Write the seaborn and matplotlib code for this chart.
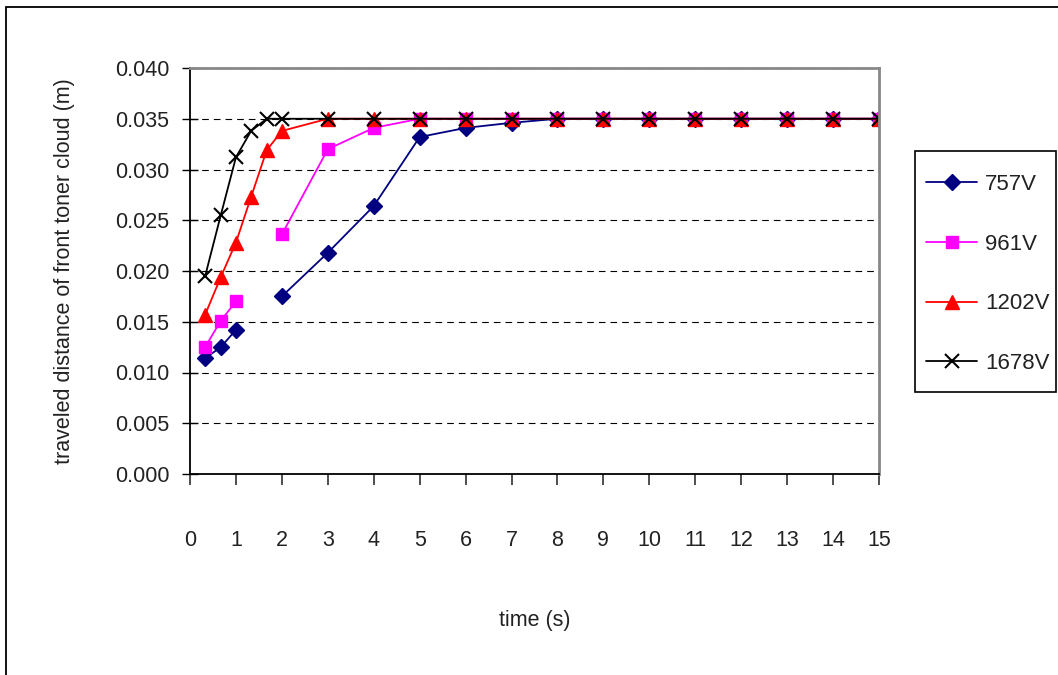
import numpy as np
import pandas as pd
import matplotlib
matplotlib.use('Agg')
import matplotlib.pyplot as plt
from matplotlib.patches import Rectangle
import seaborn as sns

# time axis (s); 757V and 961V have no readings at 1.33 and 1.67 s
times = [0.33, 0.67, 1.00, 1.33, 1.67, 2, 3, 4, 5, 6, 7, 8, 9, 10, 11, 12, 13, 14, 15]
nan = np.nan
dist_757 = [0.0114, 0.0125, 0.0142, nan, nan, 0.0175, 0.0218, 0.0264, 0.0332, 0.0341,
            0.0346, 0.035, 0.035, 0.035, 0.035, 0.035, 0.035, 0.035, 0.035]
dist_961 = [0.0125, 0.0151, 0.0170, nan, nan, 0.0236, 0.0320, 0.0341, 0.035, 0.035,
            0.035, 0.035, 0.035, 0.035, 0.035, 0.035, 0.035, 0.035, 0.035]
dist_1202 = [0.0157, 0.0194, 0.0228, 0.0273, 0.0319, 0.0338, 0.035, 0.035, 0.035, 0.035,
             0.035, 0.035, 0.035, 0.035, 0.035, 0.035, 0.035, 0.035, 0.035]
dist_1678 = [0.0195, 0.0255, 0.0312, 0.0338, 0.035, 0.035, 0.035, 0.035, 0.035, 0.035,
             0.035, 0.035, 0.035, 0.035, 0.035, 0.035, 0.035, 0.035, 0.035]
voltages = ['757V', '961V', '1202V', '1678V']
y_ticks = [0.000, 0.005, 0.010, 0.015, 0.020, 0.025, 0.030, 0.035, 0.040]
x_ticks = list(range(0, 16))

series = dict(zip(voltages, [dist_757, dist_961, dist_1202, dist_1678]))
styles = {
    '757V': dict(color='#000080', marker='D', markersize=8.5, markeredgewidth=1),
    '961V': dict(color='#FF00FF', marker='s', markersize=8.5, markeredgewidth=1),
    '1202V': dict(color='#FF0000', marker='^', markersize=10, markeredgewidth=1),
    '1678V': dict(color='#000000', marker='x', markersize=10, markeredgewidth=1.5),
}

# long table, split into segments wherever a reading is missing
rows = []
for v in voltages:
    seg = 0
    for t, d in zip(times, series[v]):
        if np.isnan(d):
            seg += 1
            continue
        rows.append({'voltage': v, 'time': t, 'distance': d, 'segment': '%s-%d' % (v, seg)})
df = pd.DataFrame(rows)

sns.set_style('white')
plt.rcParams['font.family'] = ['Liberation Sans', 'DejaVu Sans']
fs = 15.5

fig = plt.figure(figsize=(10.58, 6.75), dpi=100)
ax = fig.add_axes([190/1058, 1 - 474/675, 689/1058, 406/675])

handles = []
for v in voltages:
    st = styles[v]
    n_before = len(ax.lines)
    sns.lineplot(data=df[df['voltage'] == v], x='time', y='distance', units='segment',
                 estimator=None, sort=False, ax=ax, legend=False,
                 color=st['color'], marker=st['marker'], markersize=st['markersize'],
                 markeredgecolor=st['color'], markeredgewidth=st['markeredgewidth'],
                 linewidth=1.3)
    handles.append(ax.lines[n_before])

ax.set_xlim(0, 15)
ax.set_ylim(0, 0.040)
ax.set_xticks(x_ticks)
ax.set_yticks(y_ticks)
ax.set_yticklabels(['%.3f' % y for y in y_ticks])
ax.tick_params(axis='y', direction='inout', length=12, width=1, color='black',
               labelsize=fs, pad=9, left=True)
ax.tick_params(axis='x', direction='out', length=8, width=1.3, color='#404040',
               labelsize=fs, pad=32, bottom=True)
for lab in ax.get_xticklabels() + ax.get_yticklabels():
    lab.set_color('#222222')

ax.grid(axis='y', color='black', linestyle=(0, (6, 4.5)), linewidth=0.8)
ax.grid(axis='x', visible=False)
ax.set_axisbelow(True)

for side in ['left', 'bottom']:
    ax.spines[side].set_color('black')
    ax.spines[side].set_linewidth(1.3)
for side in ['top', 'right']:
    ax.spines[side].set_color('#888888')
    ax.spines[side].set_linewidth(2)

ax.set_xlabel('time (s)', fontsize=fs, color='#222222')
ax.set_ylabel('traveled distance of front toner cloud (m)', fontsize=fs, color='#222222')
ax.xaxis.set_label_coords(0.5, -0.335)
ax.yaxis.set_label_coords(-0.167, 0.5)

leg = fig.legend(handles, voltages, loc='upper left', bbox_to_anchor=(916/1058, 1 - 164/675),
                 frameon=False, fontsize=16, labelspacing=1.74, handlelength=2.3,
                 handletextpad=0.35, borderpad=0.45, borderaxespad=0)
for t in leg.get_texts():
    t.set_color('#222222')

# legend frame and outer chart border
fig.patches.append(Rectangle((915/1058, 1 - 392/675), 141/1058, 241/675, transform=fig.transFigure,
                             fill=False, edgecolor='black', linewidth=1.2))
fig.patches.append(Rectangle((6/1058, -0.1), 1.1, 1.1 - 7/675, transform=fig.transFigure,
                             fill=False, edgecolor='black', linewidth=1.3))

fig.savefig('out.png', dpi=100)
